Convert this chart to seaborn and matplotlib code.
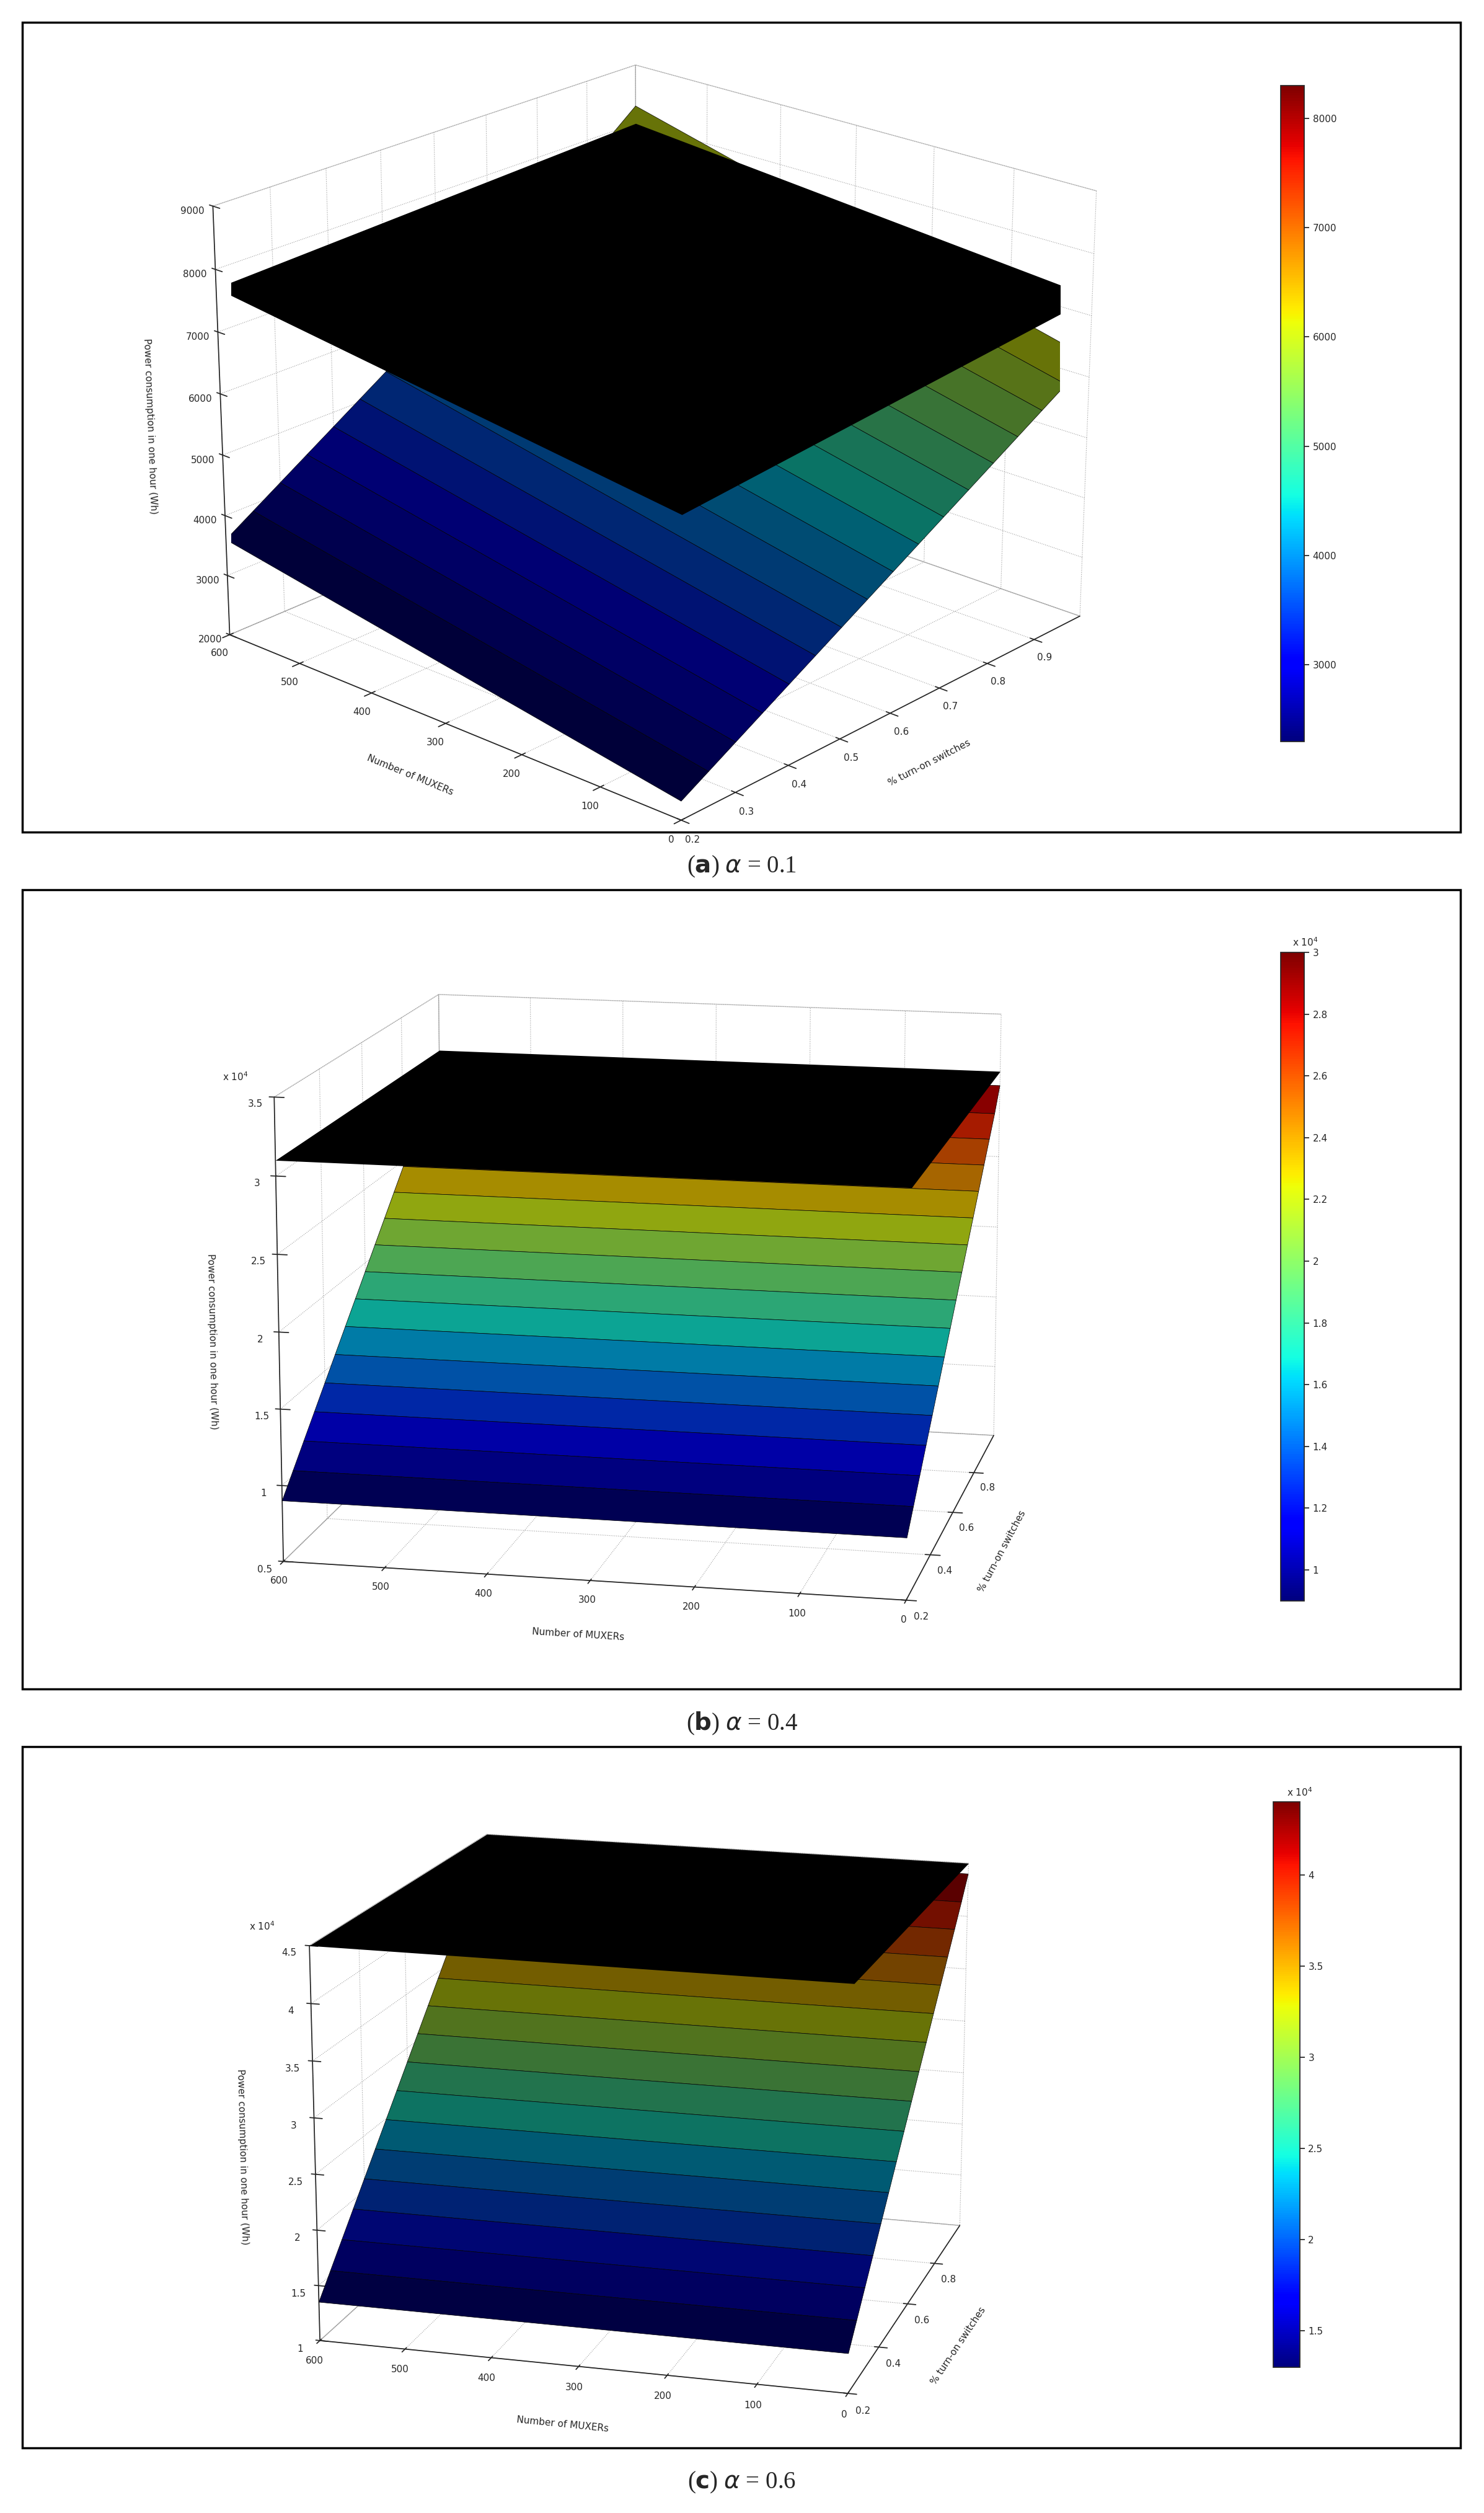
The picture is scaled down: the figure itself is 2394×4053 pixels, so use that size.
import numpy as np
import matplotlib.pyplot as plt
import seaborn as sns
from matplotlib.patches import Rectangle

sns.set_theme(style="white")
plt.rcParams['font.family'] = ['DejaVu Sans']

# ---- data ----
muxers = [0, 600]
switches = [0.2, 0.25, 0.3, 0.35, 0.4, 0.45, 0.5, 0.55, 0.6,
            0.65, 0.7, 0.75, 0.8, 0.85, 0.9, 0.95, 1.0]

# panel (a) alpha = 0.1, colored surface: z at n=0 and n=600 for each switch level
a_col_n0 = [2300, 2550, 2800, 3050, 3300, 3550, 3800, 4050, 4300,
            4550, 4800, 5050, 5300, 5550, 5800, 6050, 6300]
a_col_n600 = [3600, 3890, 4180, 4470, 4760, 5050, 5340, 5630, 5920,
              6210, 6500, 6790, 7080, 7370, 7660, 7950, 8300]
a_blk_n0 = [6700, 7300]
a_blk_n600 = [7700, 8000]

# panel (b) alpha = 0.4
b_col = [9000, 10300, 11600, 12900, 14200, 15500, 16800, 18100, 19400,
         20700, 22000, 23300, 24600, 25900, 27200, 28500, 30000]
b_blk = [31000, 31000]

# panel (c) alpha = 0.6
c_col = [13500, 15400, 17300, 19200, 21100, 23000, 24900, 26800, 28700,
         30600, 32500, 34400, 36300, 38200, 40100, 42000, 44000]
c_blk = [45000, 45000]

panels = [
    dict(col=np.array([a_col_n0, a_col_n600]), blk=np.array([a_blk_n0, a_blk_n600]),
         zlim=(2000, 9000), zticks=[2000, 3000, 4000, 5000, 6000, 7000, 8000, 9000],
         yticks=[0.2, 0.3, 0.4, 0.5, 0.6, 0.7, 0.8, 0.9], sci=None,
         clim=(2300, 8300), cticks=[3000, 4000, 5000, 6000, 7000, 8000],
         view=(22, -48), letter='a', alpha='0.1', dim=0.45, zoom=1.15,
         ax_rect=[0.0, 0.665, 0.87, 0.33], cb_rect=[0.863, 0.705, 0.016, 0.261],
         frame=(0.669, 0.991), cap=0.655),
    dict(col=np.array([b_col, b_col]), blk=np.array([b_blk, b_blk]),
         zlim=(5000, 35000), zticks=[5000, 10000, 15000, 20000, 25000, 30000, 35000],
         yticks=[0.2, 0.4, 0.6, 0.8], sci=(0.150, 0.570),
         clim=(9000, 30000), cticks=[10000, 12000, 14000, 16000, 18000, 20000,
                                     22000, 24000, 26000, 28000, 30000],
         view=(13, -78), letter='b', alpha='0.4', dim=0.65, zoom=1.15,
         ax_rect=[0.0, 0.325, 0.87, 0.325], cb_rect=[0.863, 0.363, 0.016, 0.258],
         frame=(0.328, 0.646), cap=0.314),
    dict(col=np.array([c_col, c_col]), blk=np.array([c_blk, c_blk]),
         zlim=(10000, 45000), zticks=[10000, 15000, 20000, 25000, 30000, 35000, 40000, 45000],
         yticks=[0.2, 0.4, 0.6, 0.8], sci=(0.168, 0.232),
         clim=(13000, 44000), cticks=[15000, 20000, 25000, 30000, 35000, 40000],
         view=(16, -74), letter='c', alpha='0.6', dim=0.45, zoom=1.2,
         ax_rect=[0.0, 0.028, 0.87, 0.27], cb_rect=[0.858, 0.058, 0.018, 0.225],
         frame=(0.026, 0.305), cap=0.012),
]

fig = plt.figure(figsize=(23.94, 40.53), dpi=100)
cmap = plt.get_cmap('jet')

for p in panels:
    b0, t0 = p['frame']
    fig.patches.append(Rectangle((0.015, b0), 0.969, t0 - b0, transform=fig.transFigure,
                                 fill=False, edgecolor='black', linewidth=2.5))
    fig.text(0.5, p['cap'], r'($\bf{%s}$) $\it{\alpha}$ = %s' % (p['letter'], p['alpha']),
             ha='center', va='center', fontsize=28, family='Liberation Serif')

    ax = fig.add_axes(p['ax_rect'], projection='3d')
    S, N = np.meshgrid(switches, muxers)
    Z = p['col']
    norm = plt.Normalize(*p['clim'])
    fc = cmap(norm(Z))
    fc[..., :3] *= p['dim']
    ax.plot_surface(N, S, Z, facecolors=fc, shade=False,
                    edgecolor='black', linewidth=0.5, rstride=1, cstride=1)
    Sb, Nb = np.meshgrid([0.2, 1.0], muxers)
    ax.plot_surface(Nb, Sb, p['blk'], color='black', shade=False, linewidth=0)

    ax.set_xlim(600, 0)
    ax.set_ylim(0.2, 1.0)
    ax.set_zlim(*p['zlim'])
    ax.set_box_aspect(None, zoom=p['zoom'])
    ax.set_xticks([0, 100, 200, 300, 400, 500, 600])
    ax.set_yticks(p['yticks'])
    ax.set_zticks(p['zticks'])
    if p['sci']:
        ax.set_zticklabels(['%g' % (v / 1e4) for v in p['zticks']])
        fig.text(p['sci'][0], p['sci'][1], r'x 10$^4$', fontsize=11)
    ax.tick_params(labelsize=11)
    ax.zaxis._axinfo['juggled'] = (1, 2, 0)
    ax.set_xlabel('Number of MUXERs', fontsize=11, labelpad=20)
    ax.set_ylabel('% turn-on switches', fontsize=11, labelpad=20)
    ax.set_zlabel('Power consumption in one hour (Wh)', fontsize=11, labelpad=20)
    ax.view_init(*p['view'])
    for axis in (ax.xaxis, ax.yaxis, ax.zaxis):
        axis.pane.fill = False
        axis.pane.set_edgecolor('0.6')
        axis._axinfo['grid'].update(linestyle=':', color='0.6', linewidth=0.8)

    cax = fig.add_axes(p['cb_rect'])
    sm = plt.cm.ScalarMappable(norm=norm, cmap=cmap)
    cb = fig.colorbar(sm, cax=cax, ticks=p['cticks'])
    if p['sci']:
        cb.ax.set_yticklabels(['%g' % (v / 1e4) for v in p['cticks']])
        cax.text(0.5, 1.01, r'x 10$^4$', transform=cax.transAxes, fontsize=11)
    cax.tick_params(labelsize=11)

fig.savefig('out.png', dpi=100)
